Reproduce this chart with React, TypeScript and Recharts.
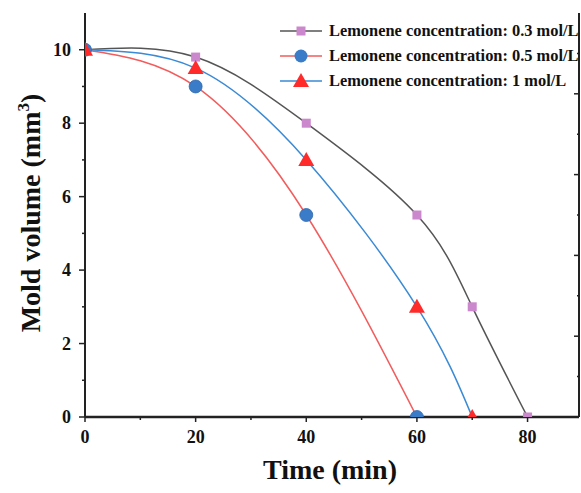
import React from 'react';
import { LineChart, Line, XAxis, YAxis } from 'recharts';

const times = [0, 20, 40, 60, 70, 80];
const vol03 = [10, 9.8, 8, 5.5, 3, 0];
const vol05 = [10, 9, 5.5, 0];
const vol1 = [10, 9.5, 7, 3, 0];

const xTicks = [0, 10, 20, 30, 40, 50, 60, 70, 80];
const yTicks = [0, 1, 2, 3, 4, 5, 6, 7, 8, 9, 10];
const topTicks = [10, 20, 30, 40, 50, 60, 70, 80, 90];
const rightTicks = [0, 0.5, 1, 1.5, 2, 2.5, 3, 3.5, 4, 4.5];

const labels = [
  'Lemonene concentration: 0.3 mol/L',
  'Lemonene concentration: 0.5 mol/L',
  'Lemonene concentration: 1 mol/L',
];

const toRows = (vals: number[]) => vals.map((v, i) => ({ t: times[i], v }));
const data03 = toRows(vol03);
const data05 = toRows(vol05);
const data1 = toRows(vol1);

const FONT = '"Liberation Serif", "Times New Roman", serif';
const AXIS = '#222';

const C = {
  grayLine: '#555555',
  square: '#cc88cc',
  redLine: '#f25c5c',
  circle: '#3a7cc8',
  blueLine: '#3a8ad5',
  tri: '#ff2b2b',
};

const squareDot = (p: any) => (
  <rect key={`s-${p.index}`} x={p.cx - 4.5} y={p.cy - 4.5} width={9} height={9} fill={C.square} />
);
const circleDot = (p: any) => (
  <circle key={`c-${p.index}`} cx={p.cx} cy={p.cy} r={6.5} fill={C.circle} stroke="#2f68ad" strokeWidth={0.8} />
);
const triDot = (p: any) => (
  <polygon
    key={`t-${p.index}`}
    points={`${p.cx},${p.cy - 8} ${p.cx - 8},${p.cy + 6} ${p.cx + 8},${p.cy + 6}`}
    fill={C.tri}
  />
);

const leftTick = (p: any) => {
  const { x, y, payload } = p;
  const major = payload.value % 2 === 0;
  return (
    <g>
      <line x1={x} x2={x - (major ? 6 : 3)} y1={y} y2={y} stroke={AXIS} strokeWidth={1.5} />
      {major && (
        <text x={x - 14} y={y + 6} textAnchor="end" fontFamily={FONT} fontWeight="bold" fontSize={18} fill="#111">
          {payload.value}
        </text>
      )}
    </g>
  );
};

const bottomTick = (p: any) => {
  const { x, y, payload } = p;
  const major = payload.value % 20 === 0;
  return (
    <g>
      <line x1={x} x2={x} y1={y} y2={y + (major ? 5 : 3)} stroke={AXIS} strokeWidth={1.5} />
      {major && (
        <text x={x} y={y + 26} textAnchor="middle" fontFamily={FONT} fontWeight="bold" fontSize={18} fill="#111">
          {payload.value}
        </text>
      )}
    </g>
  );
};

const topTick = (p: any) => {
  const { x, y } = p;
  return <line x1={x} x2={x} y1={y} y2={y + 5} stroke={AXIS} strokeWidth={1.5} />;
};

const rightTick = (p: any) => {
  const { x, y, payload } = p;
  const major = payload.value % 1 === 0;
  return <line x1={x} x2={x - (major ? 5 : 2)} y1={y} y2={y} stroke={AXIS} strokeWidth={1.5} />;
};

const legendIcons = [
  (cx: number, cy: number) => <rect x={cx - 4.5} y={cy - 4.5} width={9} height={9} fill={C.square} />,
  (cx: number, cy: number) => <circle cx={cx} cy={cy} r={6.5} fill={C.circle} />,
  (cx: number, cy: number) => (
    <polygon points={`${cx},${cy - 8} ${cx - 8},${cy + 6} ${cx + 8},${cy + 6}`} fill={C.tri} />
  ),
];
const legendLines = [C.grayLine, C.redLine, C.blueLine];

const xTitle = (p: any) => {
  const vb = p.viewBox;
  return (
    <text x={vb.x + vb.width / 2 - 2} y={479} textAnchor="middle" fontFamily={FONT} fontWeight="bold" fontSize={28} fill="#111">
      Time (min)
    </text>
  );
};

const yTitle = () => (
  <text
    transform="translate(40, 213) rotate(-90)"
    textAnchor="middle"
    fontFamily={FONT}
    fontWeight="bold"
    fontSize={28}
    fill="#111"
  >
    Mold volume (mm<tspan fontSize={17} dy={-11}>3</tspan>
    <tspan dy={11}>)</tspan>
  </text>
);

export default function App() {
  return (
    <div style={{ position: 'absolute', left: 0, top: 0, width: 581, height: 493, background: '#fff', overflow: 'hidden' }}>
      <LineChart width={581} height={493} margin={{ top: 13, right: 0, bottom: 0, left: 0 }}>
        <XAxis
          dataKey="t"
          type="number"
          domain={[0, 89.3]}
          allowDataOverflow
          ticks={xTicks}
          interval={0}
          height={76}
          tickSize={0}
          tickMargin={0}
          tickLine={false}
          tick={bottomTick}
          axisLine={{ stroke: AXIS, strokeWidth: 2.5 }}
          label={{ content: xTitle }}
        />
        <XAxis
          xAxisId="top"
          orientation="top"
          type="number"
          domain={[0, 98.6]}
          allowDataOverflow
          ticks={topTicks}
          interval={0}
          height={0}
          tickSize={0}
          tickMargin={0}
          tickLine={false}
          tick={topTick}
          axisLine={{ stroke: AXIS, strokeWidth: 2 }}
        />
        <YAxis
          type="number"
          domain={[0, 11]}
          allowDataOverflow
          ticks={yTicks}
          interval={0}
          width={85}
          tickSize={0}
          tickMargin={0}
          tickLine={false}
          tick={leftTick}
          axisLine={{ stroke: AXIS, strokeWidth: 2 }}
          label={{ content: yTitle }}
        />
        <YAxis
          yAxisId="right"
          orientation="right"
          type="number"
          domain={[0, 5]}
          allowDataOverflow
          ticks={rightTicks}
          interval={0}
          width={2}
          tickSize={0}
          tickMargin={0}
          tickLine={false}
          tick={rightTick}
          axisLine={{ stroke: AXIS, strokeWidth: 2 }}
        />
        <Line data={data03} dataKey="v" type="natural" stroke={C.grayLine} strokeWidth={1.5} dot={squareDot} isAnimationActive={false} />
        <Line data={data05} dataKey="v" type="natural" stroke={C.redLine} strokeWidth={1.5} dot={circleDot} isAnimationActive={false} />
        <Line data={data1} dataKey="v" type="natural" stroke={C.blueLine} strokeWidth={1.5} dot={triDot} isAnimationActive={false} />
      </LineChart>
      <div
        style={{
          position: 'absolute',
          top: 18,
          left: 279,
          fontFamily: FONT,
          fontWeight: 'bold',
          fontSize: 16.4,
          color: '#111',
        }}
      >
        {labels.map((l, i) => (
          <div key={l} style={{ display: 'flex', alignItems: 'center', height: 25, whiteSpace: 'nowrap' }}>
            <svg width={50} height={20} style={{ flex: 'none' }}>
              <line x1={1} x2={43} y1={10} y2={10} stroke={legendLines[i]} strokeWidth={1.5} />
              {legendIcons[i](22, 10)}
            </svg>
            <span>{l}</span>
          </div>
        ))}
      </div>
    </div>
  );
}
